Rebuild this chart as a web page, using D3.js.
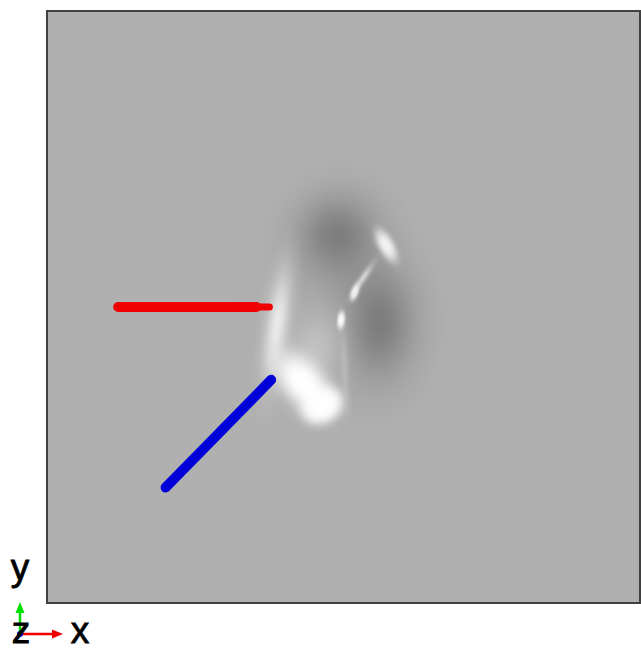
<!DOCTYPE html>
<html>
<head>
<meta charset="utf-8">
<script src="https://cdn.jsdelivr.net/npm/d3@7"></script>
<style>
  body { margin: 0; background: #fff; }
  svg { display: block; }
</style>
</head>
<body>
<div id="chart"></div>
<script>
// field features (data units, domain -50..50 on both axes)
const blobName  = ["halo", "darkTop", "darkRight", "innerLight", "leftRim", "cometBody", "cometCore", "streakTop", "arc", "spotA", "spotB", "trail"];
const blobX     = [2, -1, 6, -4.6, -11.2, -6.8, -3.6, 7.2, 3.3, 1.9, -0.4, 0.2];
const blobY     = [-1, 12, -2.5, -7.2, -3.0, -12.8, -16.6, 10.4, 4.9, 2.5, -2.2, -10];
const blobRx    = [21, 13, 11, 9, 3.6, 7, 7.5, 2.6, 1.1, 1.3, 1.3, 1.2];
const blobRy    = [27, 13, 17, 13, 17, 12, 6, 6, 5.5, 3, 3, 12];
const blobRot   = [0, 0, 0, 15, 8, -40, -30, -29, 35, 20, 5, -3];
const blobShade = [150, 115, 115, 205, 240, 255, 255, 250, 228, 245, 255, 200];
const blobPeak  = [0.5, 0.8, 0.8, 0.65, 0.9, 1, 1, 0.9, 0.8, 0.95, 1, 0.5];
const blobPow   = [2, 2, 2, 2, 2, 3, 4, 3, 2, 3, 3, 2];

// probes
const stickName  = ["red", "blue"];
const stickX1    = [-38, -30];
const stickY1    = [0, -30.5];
const stickX2    = [-12.5, -12.2];
const stickY2    = [0, -12.3];
const stickColor = ["#f00000", "#0000d8"];

const W = 641, H = 650;
const panel = { left: 47, top: 11, right: 640, bottom: 603 };

const svg = d3.select("#chart").append("svg")
    .attr("width", W)
    .attr("height", H);

const x = d3.scaleLinear().domain([-50, 50]).range([panel.left, panel.right]);
const y = d3.scaleLinear().domain([-50, 50]).range([panel.bottom, panel.top]);
const k = (panel.right - panel.left) / 100; // px per unit

const defs = svg.append("defs");
defs.append("clipPath").attr("id", "clip")
    .append("rect")
    .attr("x", panel.left).attr("y", panel.top)
    .attr("width", panel.right - panel.left)
    .attr("height", panel.bottom - panel.top);

const offsets = d3.range(0, 1.0001, 0.05);
blobName.forEach((n, i) => {
    const g = defs.append("radialGradient").attr("id", "grad-" + n);
    const col = d3.rgb(blobShade[i], blobShade[i], blobShade[i]).formatHex();
    offsets.forEach(o => {
        let a = blobPeak[i] * Math.exp(-Math.pow(o / 0.5, blobPow[i]));
        if (o >= 1) a = 0;
        g.append("stop")
            .attr("offset", o)
            .attr("stop-color", col)
            .attr("stop-opacity", a);
    });
});

// background
svg.append("rect")
    .attr("x", panel.left).attr("y", panel.top)
    .attr("width", panel.right - panel.left)
    .attr("height", panel.bottom - panel.top)
    .attr("fill", "#b0b0b0");

const field = svg.append("g").attr("clip-path", "url(#clip)");

field.selectAll("ellipse")
    .data(blobName)
    .join("ellipse")
    .attr("cx", 0).attr("cy", 0)
    .attr("rx", (d, i) => blobRx[i] * k)
    .attr("ry", (d, i) => blobRy[i] * k)
    .attr("transform", (d, i) => `translate(${x(blobX[i])},${y(blobY[i])}) rotate(${blobRot[i]})`)
    .attr("fill", d => `url(#grad-${d})`);

// sticks
const sticks = svg.append("g");
sticks.selectAll("line")
    .data(stickName)
    .join("line")
    .attr("x1", (d, i) => x(stickX1[i]))
    .attr("y1", (d, i) => y(stickY1[i]))
    .attr("x2", (d, i) => x(stickX2[i]) - (d === "red" ? 2.2 * k : 0))
    .attr("y2", (d, i) => y(stickY2[i]))
    .attr("stroke", (d, i) => stickColor[i])
    .attr("stroke-width", 10)
    .attr("stroke-linecap", "round");
// narrower tip of the red probe
sticks.append("line")
    .attr("x1", x(stickX2[0]) - 2.5 * k)
    .attr("x2", x(stickX2[0]))
    .attr("y1", y(stickY2[0]))
    .attr("y2", y(stickY2[0]))
    .attr("stroke", stickColor[0])
    .attr("stroke-width", 7)
    .attr("stroke-linecap", "round");

// frame
svg.append("rect")
    .attr("x", panel.left).attr("y", panel.top)
    .attr("width", panel.right - panel.left)
    .attr("height", panel.bottom - panel.top)
    .attr("fill", "none")
    .attr("stroke", "#404040")
    .attr("stroke-width", 2);

// axis triad
const triad = svg.append("g").attr("transform", "translate(20,634)");
triad.append("line").attr("x1", 0).attr("y1", 0).attr("x2", 0).attr("y2", -23)
    .attr("stroke", "#00e000").attr("stroke-width", 2.5);
triad.append("path").attr("d", "M0,-32 L-4.5,-21 L4.5,-21 Z").attr("fill", "#00e000");
triad.append("line").attr("x1", 0).attr("y1", 0).attr("x2", 33).attr("y2", 0)
    .attr("stroke", "#f00000").attr("stroke-width", 2.5);
triad.append("path").attr("d", "M43,0 L32,-4.5 L32,4.5 Z").attr("fill", "#f00000");

const labelFont = "Liberation Sans, Arial, sans-serif";
const labels = [["y", 20, 580], ["z", 21, 643], ["x", 80, 643]];
svg.selectAll("text.axis-label")
    .data(labels)
    .join("text")
    .attr("class", "axis-label")
    .attr("x", d => d[1]).attr("y", d => d[2])
    .attr("text-anchor", "middle")
    .attr("font-family", labelFont)
    .attr("font-size", 37)
    .attr("fill", "#000")
    .attr("stroke", "#000")
    .attr("stroke-width", 0.8)
    .text(d => d[0]);
triad.append("circle").attr("r", 3).attr("fill", "#0000e0");
</script>
</body>
</html>
